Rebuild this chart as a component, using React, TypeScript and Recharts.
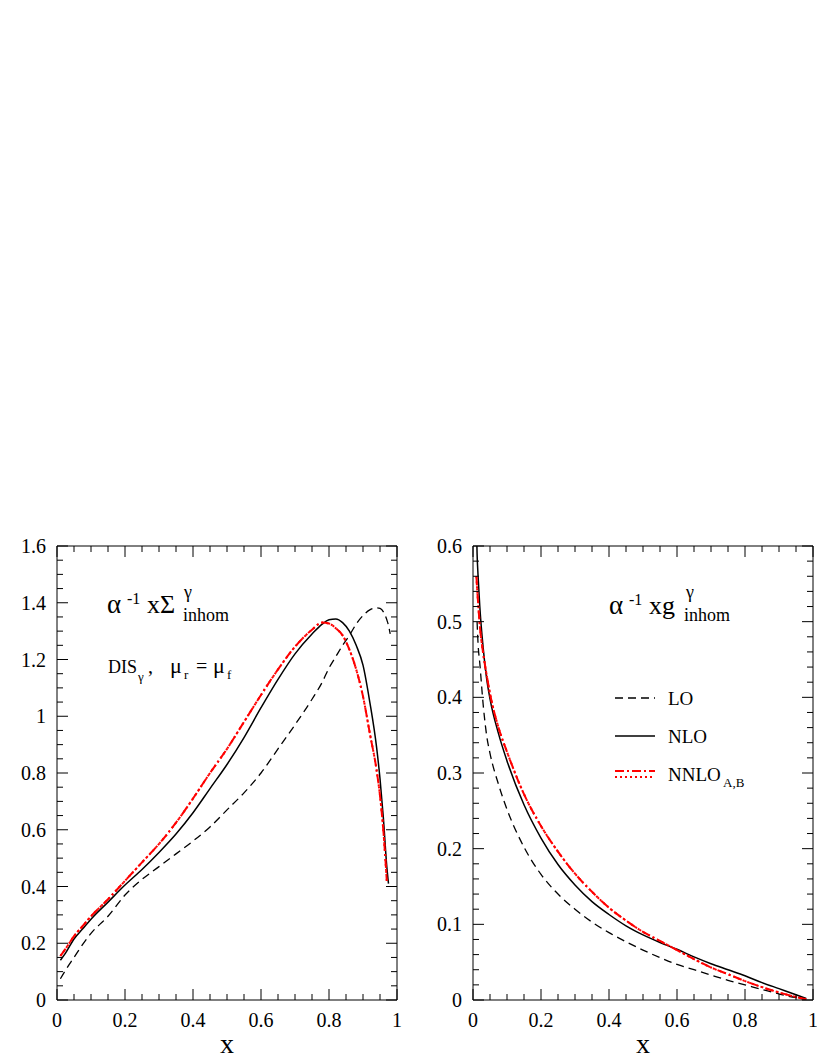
import React from 'react';
import { LineChart, Line, XAxis, YAxis } from 'recharts';

// ---------- data: left panel (alpha^-1 x Sigma^gamma_inhom) ----------
const X_LEFT = [0.01, 0.025, 0.05, 0.075, 0.1, 0.15, 0.2, 0.25, 0.3, 0.35, 0.4, 0.45, 0.5, 0.55, 0.6, 0.65, 0.7, 0.75, 0.78, 0.8, 0.82, 0.84, 0.86, 0.88, 0.9, 0.92, 0.94, 0.95, 0.96, 0.97, 0.975, 0.98];
const LO_LEFT = [0.075, 0.105, 0.15, 0.195, 0.235, 0.295, 0.37, 0.425, 0.47, 0.515, 0.56, 0.61, 0.67, 0.73, 0.8, 0.885, 0.97, 1.06, 1.12, 1.17, 1.21, 1.25, 1.285, 1.325, 1.355, 1.375, 1.382, 1.38, 1.368, 1.34, 1.32, 1.29];
const NLO_LEFT = [0.14, 0.165, 0.215, 0.25, 0.285, 0.345, 0.405, 0.46, 0.52, 0.585, 0.66, 0.745, 0.83, 0.925, 1.03, 1.13, 1.22, 1.29, 1.325, 1.34, 1.343, 1.33, 1.3, 1.25, 1.18, 1.05, 0.89, 0.78, 0.64, 0.47, 0.41, null];
const NNLOA_LEFT = [0.155, 0.18, 0.225, 0.26, 0.295, 0.355, 0.42, 0.485, 0.55, 0.625, 0.71, 0.8, 0.885, 0.98, 1.075, 1.165, 1.245, 1.305, 1.33, 1.327, 1.31, 1.285, 1.235, 1.165, 1.07, 0.94, 0.81, 0.72, 0.595, 0.42, null, null];
const NNLOB_LEFT = [0.155, 0.18, 0.225, 0.26, 0.295, 0.355, 0.42, 0.485, 0.55, 0.625, 0.71, 0.8, 0.885, 0.98, 1.075, 1.165, 1.245, 1.305, 1.33, 1.327, 1.31, 1.285, 1.235, 1.165, 1.07, 0.94, 0.81, 0.72, 0.595, 0.42, null, null];

// ---------- data: right panel (alpha^-1 x g^gamma_inhom) ----------
const X_RIGHT = [0.01, 0.012, 0.015, 0.02, 0.03, 0.04, 0.05, 0.075, 0.1, 0.15, 0.2, 0.25, 0.3, 0.35, 0.4, 0.45, 0.5, 0.55, 0.6, 0.65, 0.7, 0.75, 0.8, 0.85, 0.9, 0.95, 0.98];
const LO_RIGHT = [null, 0.5, 0.47, 0.445, 0.39, 0.35, 0.326, 0.285, 0.252, 0.202, 0.166, 0.14, 0.12, 0.103, 0.089, 0.077, 0.066, 0.056, 0.047, 0.04, 0.033, 0.026, 0.02, 0.014, 0.008, 0.003, 0.001];
const NLO_RIGHT = [0.63, 0.59, 0.56, 0.52, 0.465, 0.425, 0.398, 0.352, 0.316, 0.258, 0.214, 0.179, 0.152, 0.13, 0.113, 0.098, 0.086, 0.076, 0.067, 0.057, 0.048, 0.04, 0.032, 0.023, 0.015, 0.007, 0.002];
const NNLOA_RIGHT = [0.56, 0.545, 0.525, 0.495, 0.458, 0.43, 0.405, 0.36, 0.328, 0.272, 0.23, 0.196, 0.167, 0.143, 0.122, 0.105, 0.09, 0.078, 0.066, 0.054, 0.043, 0.034, 0.025, 0.017, 0.01, 0.004, 0.001];
const NNLOB_RIGHT = [0.56, 0.545, 0.525, 0.495, 0.458, 0.43, 0.405, 0.36, 0.328, 0.272, 0.23, 0.196, 0.167, 0.143, 0.122, 0.105, 0.09, 0.078, 0.066, 0.054, 0.043, 0.034, 0.025, 0.017, 0.01, 0.004, 0.001];

// ---------- ticks ----------
const X_MAJOR = [0, 0.2, 0.4, 0.6, 0.8, 1];
const X_LABELS = ['0', '0.2', '0.4', '0.6', '0.8', '1'];
const X_MINOR_STEP = 0.05;
const YL_MAJOR = [0, 0.2, 0.4, 0.6, 0.8, 1, 1.2, 1.4, 1.6];
const YL_LABELS = ['0', '0.2', '0.4', '0.6', '0.8', '1', '1.2', '1.4', '1.6'];
const YL_MINOR_STEP = 0.05;
const YR_MAJOR = [0, 0.1, 0.2, 0.3, 0.4, 0.5, 0.6];
const YR_LABELS = ['0', '0.1', '0.2', '0.3', '0.4', '0.5', '0.6'];
const YR_MINOR_STEP = 0.02;

const LEGEND_NAMES = ['LO', 'NLO', 'NNLO'];

const FONT = "'Liberation Serif', 'Times New Roman', Times, serif";

const STYLES = {
  lo: { stroke: '#000000', width: 1.3, dash: '8 5' },
  nlo: { stroke: '#000000', width: 1.5, dash: undefined as string | undefined },
  nnloA: { stroke: '#ff0000', width: 2, dash: '9 3 2 3' },
  nnloB: { stroke: '#ff0000', width: 2, dash: '2 3' },
};

function buildTicks(max: number, step: number): number[] {
  const n = Math.round(max / step);
  const out: number[] = [];
  for (let i = 0; i <= n; i++) out.push(Math.round(i * step * 10000) / 10000);
  return out;
}

function makeTick(side: 'bottom' | 'top' | 'left' | 'right', majors: number[], labels: string[]) {
  return (props: any) => {
    const { x, y, payload } = props;
    const v = payload.value;
    const idx = majors.findIndex((m) => Math.abs(m - v) < 1e-6);
    const major = idx >= 0;
    const len = major ? 11 : 6;
    if (side === 'bottom') {
      return (
        <g>
          <line x1={x} y1={y} x2={x} y2={y - len} stroke="#000" strokeWidth={1} />
          {major && (
            <text x={x} y={y + 27} textAnchor="middle" fontSize={20} fontFamily={FONT} fill="#000">
              {labels[idx]}
            </text>
          )}
        </g>
      );
    }
    if (side === 'top') {
      return <line x1={x} y1={y} x2={x} y2={y + len} stroke="#000" strokeWidth={1} />;
    }
    if (side === 'left') {
      return (
        <g>
          <line x1={x} y1={y} x2={x + len} y2={y} stroke="#000" strokeWidth={1} />
          {major && (
            <text x={x - 11} y={y + 7} textAnchor="end" fontSize={20} fontFamily={FONT} fill="#000">
              {labels[idx]}
            </text>
          )}
        </g>
      );
    }
    return <line x1={x} y1={y} x2={x - len} y2={y} stroke="#000" strokeWidth={1} />;
  };
}

function buildRows(xs: number[], lo: (number | null)[], nlo: (number | null)[], a: (number | null)[], b: (number | null)[]) {
  return xs.map((x, i) => ({ x, lo: lo[i], nlo: nlo[i], nnloA: a[i], nnloB: b[i] }));
}

interface PanelProps {
  data: any[];
  yMax: number;
  yMajor: number[];
  yLabels: string[];
  yStep: number;
  plotLeft: number; // local to the chart
  width: number;
}

// plot area: 340 px wide, y from 546 to 1000 (page pixels)
function Panel({ data, yMax, yMajor, yLabels, yStep, plotLeft, width }: PanelProps) {
  const xTicks = buildTicks(1, X_MINOR_STEP);
  const yTicks = buildTicks(yMax, yStep);
  const plotW = 340;
  const axisThick = 1;
  return (
    <LineChart
      width={width}
      height={1058}
      data={data}
      margin={{
        top: 546 - axisThick,
        left: plotLeft - axisThick,
        right: width - plotLeft - plotW - axisThick,
        bottom: 1058 - 1000 - axisThick,
      }}
    >
      <XAxis
        xAxisId="b"
        dataKey="x"
        type="number"
        domain={[0, 1]}
        ticks={xTicks}
        interval={0}
        height={axisThick}
        tickSize={0}
        tickMargin={0}
        tickLine={false}
        axisLine={{ stroke: '#000', strokeWidth: 1 }}
        tick={makeTick('bottom', X_MAJOR, X_LABELS)}
        allowDataOverflow
      />
      <XAxis
        xAxisId="t"
        dataKey="x"
        orientation="top"
        type="number"
        domain={[0, 1]}
        ticks={xTicks}
        interval={0}
        height={axisThick}
        tickSize={0}
        tickMargin={0}
        tickLine={false}
        axisLine={{ stroke: '#000', strokeWidth: 1 }}
        tick={makeTick('top', X_MAJOR, X_LABELS)}
        allowDataOverflow
      />
      <YAxis
        yAxisId="l"
        type="number"
        domain={[0, yMax]}
        ticks={yTicks}
        interval={0}
        width={axisThick}
        tickSize={0}
        tickMargin={0}
        tickLine={false}
        axisLine={{ stroke: '#000', strokeWidth: 1 }}
        tick={makeTick('left', yMajor, yLabels)}
        allowDataOverflow
      />
      <YAxis
        yAxisId="r"
        orientation="right"
        type="number"
        domain={[0, yMax]}
        ticks={yTicks}
        interval={0}
        width={axisThick}
        tickSize={0}
        tickMargin={0}
        tickLine={false}
        axisLine={{ stroke: '#000', strokeWidth: 1 }}
        tick={makeTick('right', yMajor, yLabels)}
        allowDataOverflow
      />
      <Line xAxisId="b" yAxisId="l" type="monotone" dataKey="lo" stroke={STYLES.lo.stroke} strokeWidth={STYLES.lo.width} strokeDasharray={STYLES.lo.dash} dot={false} isAnimationActive={false} />
      <Line xAxisId="b" yAxisId="l" type="monotone" dataKey="nlo" stroke={STYLES.nlo.stroke} strokeWidth={STYLES.nlo.width} dot={false} isAnimationActive={false} />
      <Line xAxisId="b" yAxisId="l" type="monotone" dataKey="nnloA" stroke={STYLES.nnloA.stroke} strokeWidth={STYLES.nnloA.width} strokeDasharray={STYLES.nnloA.dash} dot={false} isAnimationActive={false} />
      <Line xAxisId="b" yAxisId="l" type="monotone" dataKey="nnloB" stroke={STYLES.nnloB.stroke} strokeWidth={STYLES.nnloB.width} strokeDasharray={STYLES.nnloB.dash} dot={false} isAnimationActive={false} />
    </LineChart>
  );
}

function Overlay() {
  const t = { fontFamily: FONT, fill: '#000' };
  return (
    <svg width={817} height={1058} style={{ position: 'absolute', left: 0, top: 0, pointerEvents: 'none' }}>
      {/* axis titles */}
      <text x={227} y={1053} textAnchor="middle" fontSize={28} {...t}>x</text>
      <text x={643} y={1053} textAnchor="middle" fontSize={28} {...t}>x</text>

      {/* left annotation */}
      <text x={107} y={613} fontSize={27} {...t}>α</text>
      <text x={127} y={604} fontSize={16} {...t}>-1</text>
      <text x={147} y={613} fontSize={26} {...t}>xΣ</text>
      <text x={184} y={598} fontSize={18} {...t}>γ</text>
      <text x={183} y={621} fontSize={18} {...t}>inhom</text>

      <text x={108} y={673} fontSize={18} {...t}>DIS</text>
      <text x={138} y={681} fontSize={13} {...t}>γ</text>
      <text x={148} y={673} fontSize={20} {...t}>,</text>
      <text x={170} y={673} fontSize={22} {...t}>μ</text>
      <text x={184} y={679} fontSize={13} {...t}>r</text>
      <text x={196} y={673} fontSize={20} {...t}>=</text>
      <text x={213} y={673} fontSize={22} {...t}>μ</text>
      <text x={227} y={679} fontSize={13} {...t}>f</text>

      {/* right annotation */}
      <text x={609} y={614} fontSize={27} {...t}>α</text>
      <text x={629} y={605} fontSize={16} {...t}>-1</text>
      <text x={649} y={614} fontSize={26} {...t}>xg</text>
      <text x={686} y={598} fontSize={18} {...t}>γ</text>
      <text x={684} y={621} fontSize={18} {...t}>inhom</text>

      {/* legend */}
      <line x1={615} y1={698} x2={655} y2={698} stroke={STYLES.lo.stroke} strokeWidth={STYLES.lo.width} strokeDasharray={STYLES.lo.dash} />
      <text x={668} y={705} fontSize={19} {...t}>{LEGEND_NAMES[0]}</text>
      <line x1={615} y1={736} x2={655} y2={736} stroke={STYLES.nlo.stroke} strokeWidth={STYLES.nlo.width} />
      <text x={668} y={743} fontSize={19} {...t}>{LEGEND_NAMES[1]}</text>
      <line x1={615} y1={771} x2={655} y2={771} stroke={STYLES.nnloA.stroke} strokeWidth={STYLES.nnloA.width} strokeDasharray={STYLES.nnloA.dash} />
      <line x1={615} y1={777} x2={655} y2={777} stroke={STYLES.nnloB.stroke} strokeWidth={STYLES.nnloB.width} strokeDasharray={STYLES.nnloB.dash} />
      <text x={668} y={781} fontSize={19} {...t}>{LEGEND_NAMES[2]}</text>
      <text x={723} y={787} fontSize={13} {...t}>A,B</text>
    </svg>
  );
}

export default function App() {
  const left = buildRows(X_LEFT, LO_LEFT, NLO_LEFT, NNLOA_LEFT, NNLOB_LEFT);
  const right = buildRows(X_RIGHT, LO_RIGHT, NLO_RIGHT, NNLOA_RIGHT, NNLOB_RIGHT);
  return (
    <div style={{ position: 'absolute', left: 0, top: 0, width: 817, height: 1058, background: '#fff', overflow: 'hidden' }}>
      <div style={{ position: 'absolute', left: 0, top: 0 }}>
        <Panel data={left} yMax={1.6} yMajor={YL_MAJOR} yLabels={YL_LABELS} yStep={YL_MINOR_STEP} plotLeft={57} width={410} />
      </div>
      <div style={{ position: 'absolute', left: 410, top: 0 }}>
        <Panel data={right} yMax={0.6} yMajor={YR_MAJOR} yLabels={YR_LABELS} yStep={YR_MINOR_STEP} plotLeft={63} width={407} />
      </div>
      <Overlay />
    </div>
  );
}
